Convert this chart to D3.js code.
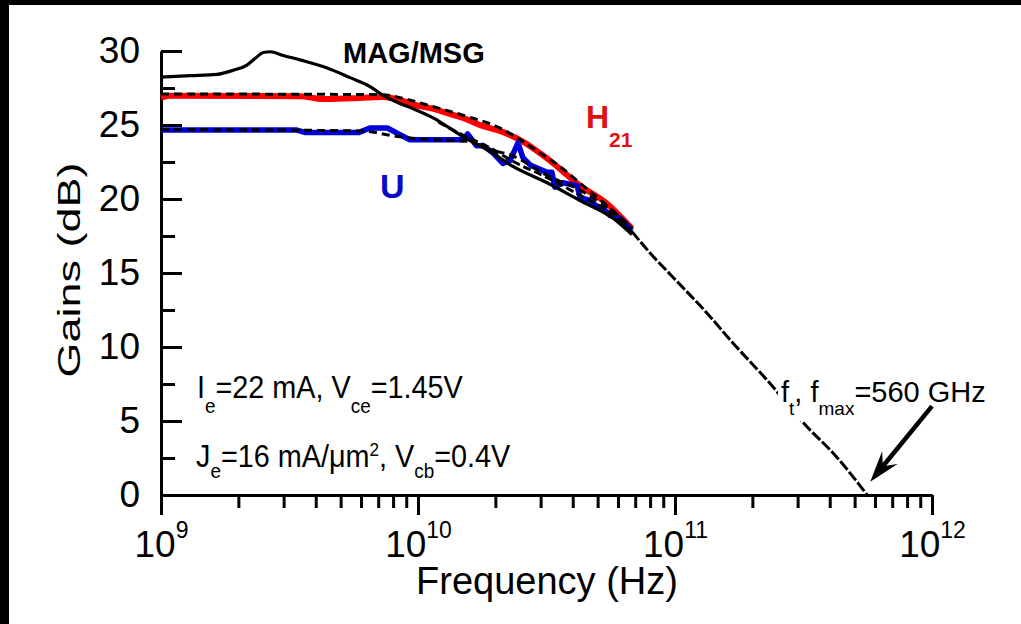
<!DOCTYPE html>
<html>
<head>
<meta charset="utf-8">
<script src="https://cdn.jsdelivr.net/npm/d3@7"></script>
<style>
html, body { margin: 0; padding: 0; background: #000; }
svg { display: block; font-family: "Liberation Sans", Arial, Helvetica, sans-serif; }
</style>
</head>
<body>
<svg id="chart"></svg>
<script>
// values: frequency in GHz, gain in dB
const magFreq = [1.00, 1.30, 1.65, 1.91, 2.16, 2.36, 2.50, 2.66, 2.99, 3.47, 4.43, 5.44, 6.51, 7.31, 8.51, 9.57, 11.4, 15.0, 19.1, 23.4, 31.8, 42.7, 57.4, 68.0];
const magGain = [28.24, 28.33, 28.42, 28.7, 29.05, 29.6, 29.9, 29.95, 29.7, 29.4, 28.85, 28.2, 27.6, 27.0, 26.45, 26.1, 25.5, 24.2, 23.2, 22.2, 21.1, 19.9, 18.7, 17.6];

const magModelFreq = [12.0, 15.0, 19.1, 23.4, 31.8, 42.7, 57.4, 68.0];
const magModelGain = [25.2, 24.3, 23.45, 22.55, 21.45, 20.25, 18.95, 17.75];

const h21Freq = [1.00, 1.08, 3.47, 4.27, 5.44, 7.31, 8.51, 9.57, 11.4, 13.0, 15.4, 17.4, 20.8, 24.9, 32.6, 42.7, 54.3, 68.0];
const h21Gain = [26.85, 26.97, 26.95, 26.75, 26.8, 26.9, 26.7, 26.4, 26.1, 25.8, 25.4, 25.0, 24.6, 24.0, 22.6, 20.9, 19.7, 18.0];

const h21ModelFreq = [1.00, 7.31, 8.51, 11.4, 15.4, 20.8, 24.5, 29.3, 35.0, 46.7, 52.4, 68.0];
const h21ModelGain = [27.1, 27.05, 26.85, 26.25, 25.6, 24.8, 24.1, 23.2, 22.3, 20.5, 19.8, 18.0];

const uFreq = [1.00, 3.38, 3.63, 5.90, 6.50, 7.60, 8.50, 9.30, 15.0, 15.6, 16.9, 18.0, 19.6, 21.4, 22.8, 24.5, 25.6, 27.3, 31.8, 33.2, 34.1, 36.6, 41.6, 42.7, 46.7, 49.7, 52.4, 55.8, 61.1, 68.0];
const uGain = [24.66, 24.66, 24.5, 24.5, 24.8, 24.8, 24.35, 24.0, 24.0, 24.4, 23.6, 23.6, 23.1, 22.4, 22.6, 23.8, 22.8, 22.3, 21.8, 21.8, 20.8, 21.1, 20.9, 20.1, 19.9, 19.5, 19.4, 18.9, 18.7, 17.9];

const uModelFreq = [1.00, 5.94, 8.51, 11.4, 15.4, 18.5, 23.4, 31.8, 42.7, 49.7, 57.4, 68.0];
const uModelGain = [24.7, 24.6, 24.2, 24.0, 23.9, 23.4, 22.9, 21.6, 20.6, 19.9, 19.2, 17.8];

// -20 dB/dec extrapolation down to 0 dB
const extFreq = [68.0, 80, 98, 133, 168, 228, 327, 412, 560];
const extGain = [17.8, 16.35, 14.73, 12.3, 10.27, 7.77, 4.59, 2.84, 0];

// axis ticks
const yMajor = [0, 5, 10, 15, 20, 25, 30];
const yMinor = [2.5, 7.5, 12.5, 17.5, 22.5, 27.5];
const xExponents = [9, 10, 11, 12];
const xMinorMult = [2, 3, 4, 5, 6, 7, 8, 9];

// arrow pointing at the crossing (GHz, dB)
const arrowTail = [1000, 6.0];
const arrowTip = [575, 0.9];

let width = 1021,
    height = 624,
    svg = d3.select("#chart").attr("width", width).attr("height", height);

// white page inside the black frame
svg.append("rect")
    .attr("x", 9).attr("y", 5)
    .attr("width", width - 9).attr("height", height - 5)
    .attr("fill", "#fff");

let x = d3.scaleLog().domain([1e9, 1e12]).range([161, 932]);
let y = d3.scaleLinear().domain([0, 30]).range([495, 51]);

// Y axis, ticks pointing into the plot
let yAxis = svg.append("g")
    .attr("transform", "translate(161,0)")
    .call(d3.axisLeft(y).tickValues(yMajor).tickSize(-21).tickPadding(21).tickSizeOuter(0));
svg.append("g")
    .attr("transform", "translate(161,0)")
    .call(d3.axisLeft(y).tickValues(yMinor).tickSize(-14).tickFormat("").tickSizeOuter(0))
    .call(g => g.select(".domain").remove());

// X axis, ticks pointing down
let xMajor = xExponents.map(e => Math.pow(10, e));
let xMinor = [];
xMajor.slice(0, 3).forEach(d => xMinorMult.forEach(m => xMinor.push(d * m)));

let xAxis = svg.append("g")
    .attr("transform", "translate(0,495)")
    .call(d3.axisBottom(x).tickValues(xMajor).tickSize(20).tickFormat("").tickSizeOuter(0));
svg.append("g")
    .attr("transform", "translate(0,495)")
    .call(d3.axisBottom(x).tickValues(xMinor).tickSize(13).tickFormat("").tickSizeOuter(0))
    .call(g => g.select(".domain").remove());

svg.selectAll(".domain, .tick line")
    .attr("stroke", "#000")
    .attr("stroke-width", 3);

yAxis.selectAll(".tick text")
    .attr("font-size", 37)
    .attr("fill", "#000");

xAxis.selectAll(".tick text").remove();
xAxis.selectAll(".tick").each(function (d, i) {
    let t = d3.select(this).append("text")
        .attr("y", 62)
        .attr("text-anchor", "middle")
        .attr("fill", "#000")
        .attr("font-size", 37);
    t.append("tspan").text("10");
    t.append("tspan").attr("font-size", 23).attr("dy", -19).text(xExponents[i]);
});
svg.selectAll("g").attr("font-family", null);

// axis titles
svg.append("text")
    .attr("transform", "translate(80,270) scale(0.7,1) rotate(-90)")
    .attr("text-anchor", "middle")
    .attr("font-size", 45)
    .text("Gains (dB)");

svg.append("text")
    .attr("x", 547).attr("y", 594)
    .attr("text-anchor", "middle")
    .attr("font-size", 38)
    .text("Frequency (Hz)");

// curves
let line = d3.line()
    .x(d => x(d[0] * 1e9))
    .y(d => y(d[1]));

function draw(fr, gain, color, w, dash, curve) {
    svg.append("path")
        .attr("fill", "none")
        .attr("stroke", color)
        .attr("stroke-width", w)
        .attr("stroke-linejoin", "round")
        .attr("stroke-dasharray", dash)
        .attr("d", line.curve(curve)(d3.zip(fr, gain)));
}

draw(h21Freq, h21Gain, "#ff0000", 6, null, d3.curveMonotoneX);
draw(uFreq, uGain, "#0000d8", 5.5, null, d3.curveLinear);
draw(magFreq, magGain, "#000", 3.2, null, d3.curveMonotoneX);
draw(h21ModelFreq, h21ModelGain, "#000", 3, "8,5", d3.curveMonotoneX);
draw(uModelFreq, uModelGain, "#000", 3, "8,5", d3.curveMonotoneX);
draw(magModelFreq, magModelGain, "#000", 3, "8,4", d3.curveMonotoneX);
draw(extFreq, extGain, "#000", 3, "11,2.5", d3.curveMonotoneX);

// labels
svg.append("text")
    .attr("x", 343).attr("y", 63)
    .attr("font-size", 29).attr("font-weight", "bold")
    .text("MAG/MSG");

let h21 = svg.append("text")
    .attr("x", 586).attr("y", 128)
    .attr("font-size", 32).attr("font-weight", "bold")
    .attr("fill", "#dd1111");
h21.append("tspan").text("H");
h21.append("tspan").attr("font-size", 21).attr("dy", 19).text("21");

svg.append("text")
    .attr("x", 380).attr("y", 198)
    .attr("font-size", 34).attr("font-weight", "bold")
    .attr("fill", "#0a0ac8")
    .text("U");

// bias conditions
let bias1 = svg.append("text")
    .attr("transform", "translate(197,398) scale(0.9,1)")
    .attr("font-size", 32);
bias1.append("tspan").text("I");
bias1.append("tspan").attr("font-size", 21).attr("dy", 15).text("e");
bias1.append("tspan").attr("dy", -15).text("=22 mA, V");
bias1.append("tspan").attr("font-size", 21).attr("dy", 15).text("ce");
bias1.append("tspan").attr("dy", -15).text("=1.45V");

let bias2 = svg.append("text")
    .attr("transform", "translate(196,467) scale(0.9,1)")
    .attr("font-size", 32);
bias2.append("tspan").text("J");
bias2.append("tspan").attr("font-size", 21).attr("dy", 11).text("e");
bias2.append("tspan").attr("dy", -11).text("=16 mA/\u03bcm");
bias2.append("tspan").attr("font-size", 19).attr("dy", -11).text("2");
bias2.append("tspan").attr("dy", 11).text(", V");
bias2.append("tspan").attr("font-size", 21).attr("dy", 11).text("cb");
bias2.append("tspan").attr("dy", -11).text("=0.4V");

// f_t, f_max label with a white box under it
let boxFt = svg.append("rect").attr("fill", "#fff");
let ft = svg.append("text")
    .attr("x", 781).attr("y", 402)
    .attr("font-size", 29);
ft.append("tspan").text("f");
ft.append("tspan").attr("font-size", 19).attr("dy", 13).text("t");
ft.append("tspan").attr("dy", -13).text(", f");
ft.append("tspan").attr("font-size", 19).attr("dy", 13).text("max");
ft.append("tspan").attr("dy", -13).text("=560 GHz");
let bb = ft.node().getBBox();
boxFt.attr("x", bb.x - 3).attr("y", bb.y).attr("width", bb.width + 6).attr("height", bb.height + 2);

// arrow
let p0 = [x(arrowTail[0] * 1e9), y(arrowTail[1])],
    p1 = [x(arrowTip[0] * 1e9), y(arrowTip[1])];
let dx = p1[0] - p0[0], dy = p1[1] - p0[1], len = Math.hypot(dx, dy);
let ux = dx / len, uy = dy / len;
svg.append("line")
    .attr("x1", p0[0]).attr("y1", p0[1])
    .attr("x2", p1[0] - 20 * ux).attr("y2", p1[1] - 20 * uy)
    .attr("stroke", "#000").attr("stroke-width", 4.5);
let head = [
    p1,
    [p1[0] - 31 * ux + 10 * uy, p1[1] - 31 * uy - 10 * ux],
    [p1[0] - 20 * ux, p1[1] - 20 * uy],
    [p1[0] - 31 * ux - 10 * uy, p1[1] - 31 * uy + 10 * ux]
];
svg.append("path")
    .attr("d", "M" + head.map(p => p.join(",")).join("L") + "Z")
    .attr("fill", "#000");
</script>
</body>
</html>
